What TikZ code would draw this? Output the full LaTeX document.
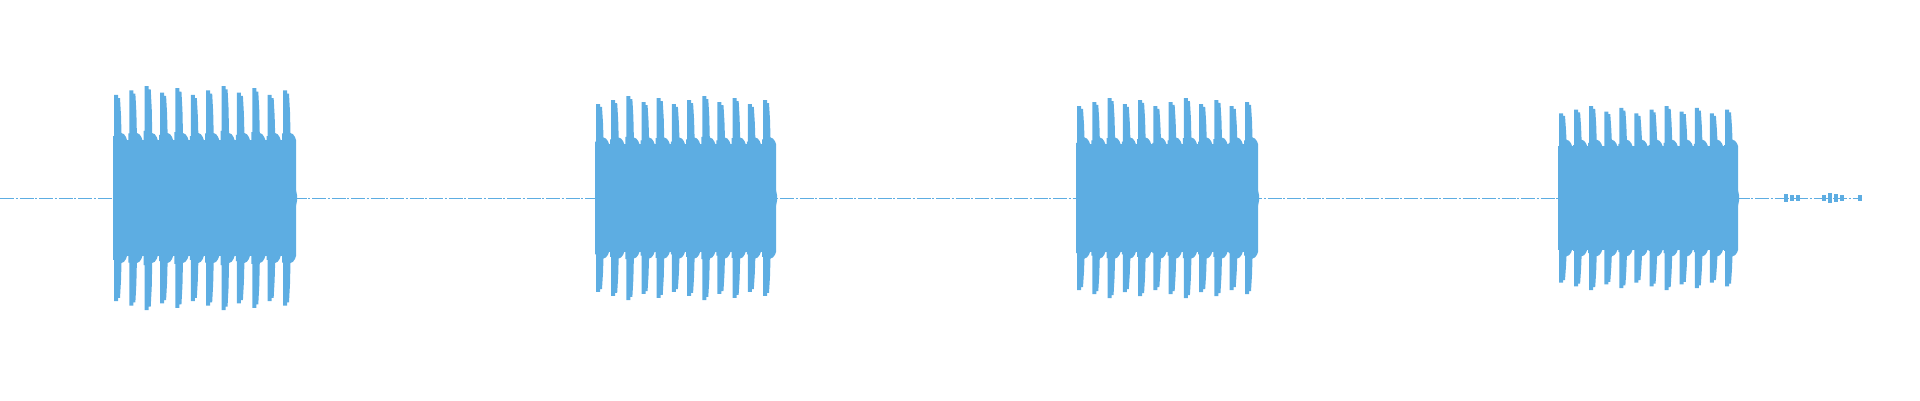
\documentclass[tikz,border=0pt]{standalone}
\definecolor{wave}{HTML}{5DADE2}
\begin{document}
\begin{tikzpicture}[x=1pt,y=-1pt,wv/.style={fill=wave,draw=none}]
\useasboundingbox (0,0) rectangle (1920,400);
\coordinate (bs) at (0,198);
\coordinate (be) at (1862,198);
\draw[wave,line width=0.6pt,dash pattern=on 14pt off 1.5pt on 2pt off 2pt] (bs) -- (be);
% bursts: start, end, peak, core
\foreach \s/\e/\p/\c in {113/294/112/58, 595/774/102/54, 1076/1256/100/54, 1558/1736/92/52}{
  \fill[wv] (\s,198-\c) rectangle (\e-4,198+\c);
  \fill[wv] (\e-4,198-\c*0.8) -- (\e+1,198-12) -- (\e+3,198-3) -- (\e+3,198+3) -- (\e+1,198+12) -- (\e-4,198+\c*0.8) -- cycle;
  \pgfmathsetmacro{\st}{(\e-\s-12)/11}
  \foreach \k in {0,...,11}{
    \pgfmathsetmacro{\x}{\s+\k*\st}
    \pgfmathsetmacro{\h}{\p*(0.92+0.08*mod(\k*7,5)/4)}
    \fill[wv] (\x,198-\h*0.6) -- (\x+1,198-\h*0.6) -- (\x+1,198-\h) -- (\x+5,198-\h) -- (\x+5,198-\h*0.97)
      -- (\x+7,198-\h*0.97) -- (\x+8,198-\h*0.8) -- (\x+8.5,198-\c*1.12) -- (\x+11,198-\c*1.1) -- (\x+13,198-\c*1.05) -- (\x+14,198-\c)
      -- (\x+14,198+\c) -- (\x+13,198+\c*1.05) -- (\x+11,198+\c*1.1) -- (\x+8.5,198+\c*1.12) -- (\x+8,198+\h*0.8)
      -- (\x+7,198+\h*0.97) -- (\x+5,198+\h*0.97) -- (\x+5,198+\h) -- (\x+1,198+\h) -- (\x+1,198+\h*0.6) -- (\x,198+\h*0.6) -- cycle;
  }
}
% tail blips
\foreach \x/\a in {1784/4,1790/3,1796/3,1822/3,1828/5,1834/4,1840/3,1858/3}{
  \fill[wv] (\x,198-\a) rectangle (\x+4,198+\a);
}
\end{tikzpicture}
\end{document}
